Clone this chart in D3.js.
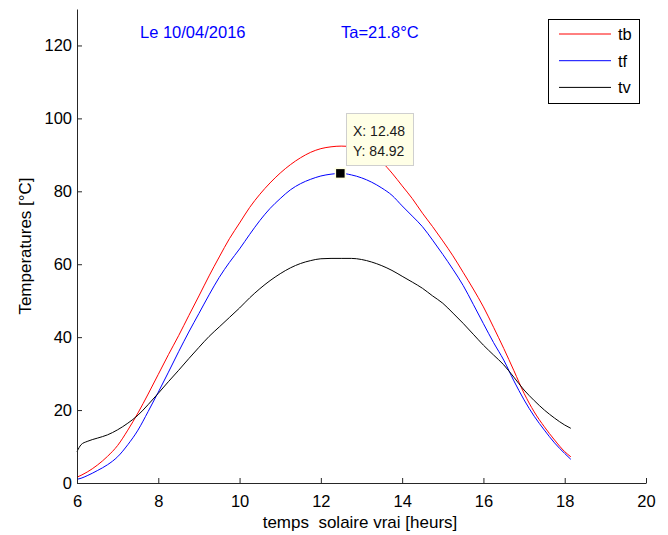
<!DOCTYPE html>
<html>
<head>
<meta charset="utf-8">
<script src="https://cdn.jsdelivr.net/npm/d3@7"></script>
<style>
  html, body { margin: 0; padding: 0; background: #fff; }
  svg { display: block; font-family: "Liberation Sans", Arial, Helvetica, sans-serif; }
</style>
</head>
<body>
<svg id="chart" width="668" height="535"></svg>
<script>
// ---- data ----
const hours = [6, 6.1, 6.25, 6.5, 6.75, 7, 7.25, 7.5, 7.75, 8, 8.25, 8.5, 8.75, 9, 9.25, 9.5, 9.75,
  10, 10.25, 10.5, 10.75, 11, 11.25, 11.5, 11.75, 12, 12.25, 12.5, 12.75, 13, 13.25, 13.5, 13.75,
  14, 14.25, 14.5, 14.75, 15, 15.25, 15.5, 15.75, 16, 16.25, 16.5, 16.75, 17, 17.25, 17.5, 17.75, 18, 18.15];
const tb = [1.6, 2.1, 3.0, 4.9, 7.3, 10.3, 14.5, 19.2, 24.4, 29.8, 35.2, 40.4, 45.9, 51.3, 56.8, 62.0, 67.0,
  71.3, 75.6, 79.2, 82.3, 85.0, 87.3, 89.2, 90.7, 91.7, 92.2, 92.4, 92.2, 91.3, 89.9, 88.0, 85.0,
  81.5, 78.0, 74.0, 70.3, 66.4, 62.3, 57.8, 53.2, 48.3, 42.7, 36.9, 30.8, 24.6, 19.5, 15.4, 11.8, 8.6, 7.2];
const tf = [1.0, 1.3, 2.0, 3.4, 5.0, 7.2, 10.5, 14.5, 19.6, 24.9, 30.4, 36.0, 41.4, 46.5, 51.6, 56.4, 60.5,
  64.2, 68.2, 72.0, 75.3, 78.0, 80.4, 82.1, 83.3, 84.2, 84.7, 84.92, 84.5, 83.7, 82.5, 80.9, 78.9,
  76.0, 73.2, 70.3, 66.6, 62.7, 58.6, 54.2, 49.0, 43.7, 38.5, 33.7, 28.0, 22.8, 18.3, 14.5, 11.0, 8.1, 6.5];
const tv = [8.6, 10.5, 11.4, 12.3, 13.2, 14.6, 16.4, 18.6, 21.5, 24.6, 27.8, 30.9, 34.1, 37.2, 40.2, 42.8, 45.4,
  48.0, 50.8, 53.3, 55.5, 57.4, 59.0, 60.2, 61.0, 61.5, 61.6, 61.6, 61.6, 61.3, 60.6, 59.6, 58.3,
  56.7, 55.1, 53.4, 51.3, 49.3, 46.6, 43.8, 40.8, 37.8, 35.1, 32.4, 29.0, 25.5, 22.6, 20.0, 17.8, 15.9, 15.0];
const seriesNames = ["tb", "tf", "tv"];
const seriesColors = ["#ff0000", "#0000ff", "#000000"];
const xTicks = [6, 8, 10, 12, 14, 16, 18, 20];
const yTicks = [0, 20, 40, 60, 80, 100, 120];
const xDomain = [6, 20];
const yDomain = [0, 130];
const titleDate = "Le 10/04/2016";
const titleTa = "Ta=21.8°C";
const xLabel = "temps  solaire vrai [heurs]";
const yLabel = "Temperatures [°C]";
const tip = { x: 12.48, y: 84.92 };

// ---- drawing ----
const svg = d3.select("#chart");
const x = d3.scaleLinear().domain(xDomain).range([77, 646]);
const y = d3.scaleLinear().domain(yDomain).range([483, 9]);
const axisColor = "#262626";

const series = [tb, tf, tv];
const line = d3.line().x(d => x(d[0])).y(d => y(d[1])).curve(d3.curveMonotoneX);
series.forEach((vals, i) => {
  svg.append("path")
    .datum(hours.map((h, j) => [h, vals[j]]))
    .attr("d", line)
    .attr("fill", "none")
    .attr("stroke", seriesColors[i])
    .attr("stroke-width", 1);
});

// axes
const xAxis = svg.append("g").attr("transform", "translate(0,483)")
  .call(d3.axisBottom(x).tickValues(xTicks).tickSizeInner(-5).tickSizeOuter(0).tickPadding(12).tickFormat(d3.format("d")));
const yAxis = svg.append("g").attr("transform", "translate(77,0)")
  .call(d3.axisLeft(y).tickValues(yTicks).tickSizeInner(-5).tickSizeOuter(0).tickPadding(5).tickFormat(d3.format("d")));
[xAxis, yAxis].forEach(g => {
  g.attr("font-family", null).attr("font-size", null);
  g.selectAll("text").attr("fill", "#000").style("font-size", "16.5px");
  g.selectAll("line").attr("stroke", axisColor);
  g.select(".domain").attr("stroke", axisColor);
});

// titles
svg.append("text").attr("x", 140).attr("y", 38).attr("fill", "#0000ff").style("font-size", "16.5px").text(titleDate);
svg.append("text").attr("x", 341).attr("y", 38).attr("fill", "#0000ff").style("font-size", "16.5px").text(titleTa);

// axis labels
svg.append("text").attr("x", 360).attr("y", 528).attr("text-anchor", "middle")
  .style("font-size", "17px").style("white-space", "pre").text(xLabel);
svg.append("text").attr("transform", "translate(31,246) rotate(-90)").attr("text-anchor", "middle")
  .style("font-size", "17px").text(yLabel);

// legend
const lg = svg.append("g");
lg.append("rect").attr("x", 548.5).attr("y", 19.5).attr("width", 91).attr("height", 84)
  .attr("fill", "#fff").attr("stroke", "#000").attr("stroke-width", 1);
seriesNames.forEach((n, i) => {
  const yy = 34 + i * 26.7;
  lg.append("line").attr("x1", 559).attr("x2", 611).attr("y1", yy).attr("y2", yy)
    .attr("stroke", seriesColors[i]).attr("stroke-width", 1);
  lg.append("text").attr("x", 618).attr("y", yy + 6).style("font-size", "16.5px").text(n);
});

// datatip
const mx = x(tip.x), my = y(tip.y);
svg.append("rect").attr("x", mx - 5).attr("y", my - 5).attr("width", 10).attr("height", 10)
  .attr("fill", "#000").attr("stroke", "#ffffe1").attr("stroke-width", 1.5);
const tg = svg.append("g");
tg.append("rect").attr("x", 346.5).attr("y", 113.5).attr("width", 67).attr("height", 52)
  .attr("fill", "#ffffe6").attr("stroke", "#cfcfcf").attr("stroke-width", 1);
tg.append("text").attr("x", 353).attr("y", 136).style("font-size", "14px").attr("fill", "#1a1a1a").text("X: " + tip.x.toFixed(2));
tg.append("text").attr("x", 353).attr("y", 156).style("font-size", "14px").attr("fill", "#1a1a1a").text("Y: " + tip.y.toFixed(2));
</script>
</body>
</html>
